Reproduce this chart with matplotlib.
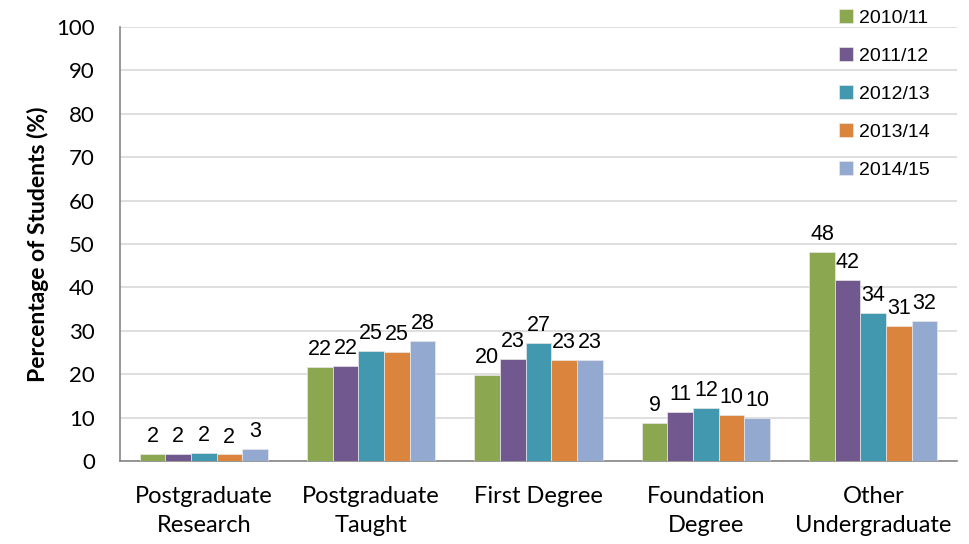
import matplotlib.pyplot as plt
import numpy as np

categories = ["Postgraduate\nResearch", "Postgraduate\nTaught", "First Degree",
              "Foundation\nDegree", "Other\nUndergraduate"]
years = ["2010/11", "2011/12", "2012/13", "2013/14", "2014/15"]

# percentage of students per year, one list per category order above
y2010 = [1.7, 21.7, 19.8, 8.8, 48.2]
y2011 = [1.6, 21.9, 23.4, 11.4, 41.7]
y2012 = [1.8, 25.3, 27.2, 12.2, 34.0]
y2013 = [1.5, 25.2, 23.3, 10.5, 31.2]
y2014 = [2.7, 27.6, 23.2, 10.0, 32.2]
series = [y2010, y2011, y2012, y2013, y2014]

colors = ["#8BA750", "#71588F", "#4198AF", "#DB843D", "#93A9CF"]

fig = plt.figure(figsize=(9.7, 5.44), dpi=100)
ax = fig.add_axes([120 / 970, 83 / 544, 837 / 970, 434 / 544])

x = np.arange(len(categories))
w = 0.153
for i, (vals, lab) in enumerate(zip(series, years)):
    bars = ax.bar(x + (i - 2) * w, vals, w, color=colors[i], label=lab,
                  edgecolor="#e8e8e8", linewidth=0.5, zorder=3)
    ax.bar_label(bars, labels=[f"{v:.0f}" for v in vals], padding=5,
                 fontsize=15.5, family="Liberation Sans")

ax.set_xlim(-0.5, 4.5)
ax.set_ylim(0, 100)
ax.set_yticks(range(0, 101, 10))
ax.set_xticks(x)
ax.set_xticklabels(categories, family="Lato", fontsize=17, linespacing=1.45)
ax.tick_params(axis="y", labelsize=16, length=0, pad=18)
ax.tick_params(axis="x", length=0, pad=18)
for t in ax.get_yticklabels():
    t.set_family("Lato")
ax.grid(axis="y", color="#d9d9d9", linewidth=1.2, zorder=0)
for s in ["top", "right"]:
    ax.spines[s].set_visible(False)
for s in ["left", "bottom"]:
    ax.spines[s].set_color("#868686")
    ax.spines[s].set_linewidth(1.2)
ax.set_ylabel("Percentage of Students (%)", family="Lato", fontweight="bold",
              fontsize=16.5, labelpad=5)

fig.legend(loc="upper left", bbox_to_anchor=(822 / 970, 1.015), frameon=False,
           prop={"family": "Liberation Sans", "size": 14}, handlelength=0.7,
           handleheight=0.7, handletextpad=0.3, labelspacing=1.05)

fig.savefig("out.png", dpi=100)
